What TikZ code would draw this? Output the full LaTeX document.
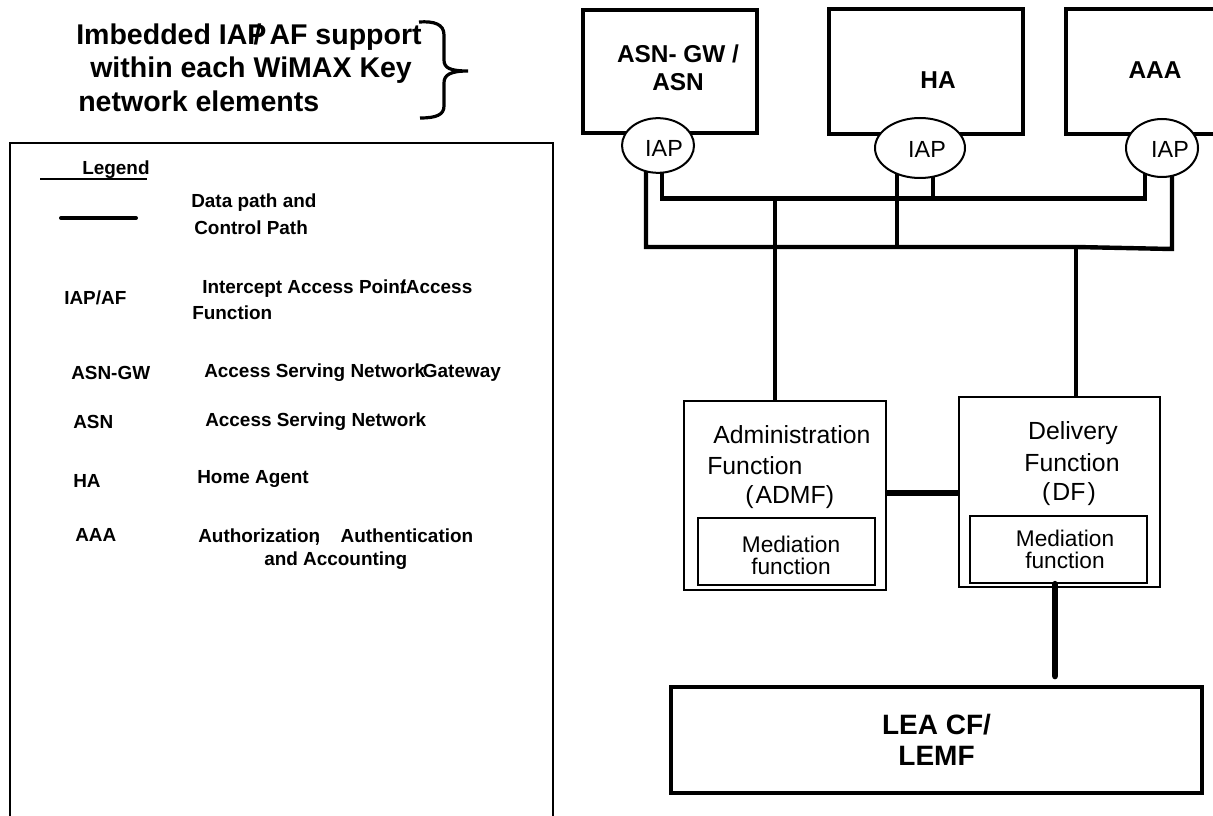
\documentclass[tikz,border=0pt]{standalone}
\usepackage{fontspec}
\setmainfont{Liberation Sans}
\usetikzlibrary{shapes.geometric,calc,backgrounds}
\newcommand{\mytitlefont}{\fontsize{21.4}{24}\selectfont\bfseries}
\newcommand{\mylegfont}{\fontsize{14.2}{18}\selectfont\bfseries}
\newcommand{\myboxfont}{\fontsize{18.3}{21}\selectfont\bfseries}
\newcommand{\myiapfont}{\fontsize{17.5}{18}\selectfont}
\newcommand{\myfnfont}{\fontsize{18.6}{23}\selectfont}
\newcommand{\mymedfont}{\fontsize{17}{16.4}\selectfont}
\newcommand{\myleafont}{\fontsize{21}{23.3}\selectfont\bfseries}
\begin{document}
\begin{tikzpicture}[x=0.75pt,y=-0.75pt,
  txt/.style={inner sep=0pt, anchor=west},
  leg/.style={txt, font=\mylegfont},
  heavybox/.style={draw, line width=3pt, inner sep=0pt},
  thinbox/.style={draw, line width=1.8pt, inner sep=0pt},
  iapnode/.style={draw, ellipse, line width=1.5pt, fill=white, inner sep=0pt},
  iaptext/.style={inner sep=0pt, font=\myiapfont},
  wire/.style={line width=3.3pt},
  line join=miter]
\useasboundingbox (0,0) rectangle (1213,816);
\clip (0,0) rectangle (1213,816);

% ---------- title and brace ----------
\node[txt, font=\mytitlefont] (t1) at (76,37) {Imbedded IAP\kern-0.45em/ AF support};
\node[txt, font=\mytitlefont] (t2) at (90,70.5) {within each WiMAX Key};
\node[txt, font=\mytitlefont] (t3) at (78,101) {network elements};
\draw[line width=2.4pt] (419,22) .. controls (434,21) and (444,24) .. (444,35)
  -- (444,60) .. controls (444,68) and (450,71) .. (468,71)
  .. controls (450,71) and (444,75) .. (444,83)
  -- (444,106) .. controls (444,115) and (436,118) .. (420,118);

% ---------- legend ----------
\node[draw, line width=1.5pt, inner sep=0pt, minimum width=407.25pt, minimum height=567.75pt] (legbox) at (281.5,521.5) {};
\node[leg] (lg) at (82,170) {Legend};
\coordinate (ul) at (40,179);
\draw[line width=0.8pt] (ul) -- ($(lg.south east |- ul)+(-3,0)$);
\coordinate (lineA) at (61,218);
\coordinate (lineB) at (136,218);
\draw[line width=3pt, line cap=round] (lineA) -- (lineB);
\node[leg] (l1a) at (191,203) {Data path and};
\node[leg] (l1b) at (194,228) {Control Path};
\node[leg] (l2) at (64,298) {IAP/AF};
\node[leg] (l2a) at (202,289) {Intercept Access Point\kern-0.3em/Access};
\node[leg] (l2b) at (192,313) {Function};
\node[leg] (l3) at (71,373) {ASN-GW};
\node[leg] (l3a) at (204,373) {Access Serving Network\kern-0.12em{}Gateway};
\node[leg] (l4) at (73,422) {ASN};
\node[leg] (l4a) at (205,422) {Access Serving Network};
\node[leg] (l5) at (73,481) {HA};
\node[leg] (l5a) at (197,479) {Home Agent};
\node[leg] (l6) at (75,535) {AAA};
\node[leg] (l6a) at (198,537) {Authorization\kern-0.3em,\hspace{1.1em}Authentication};
\node[leg] (l6b) at (264,561) {and Accounting};

% ---------- network elements ----------
\node[heavybox, minimum width=130.5pt, minimum height=92.25pt] (asn) at (670,71.5) {};
\node[heavybox, minimum width=145.5pt, minimum height=93.75pt] (ha) at (926,72) {};
\node[heavybox, minimum width=145.5pt, minimum height=93.75pt] (aaa) at (1163,72) {};
\node[font=\myboxfont, align=center, inner sep=0pt] (asnt) at (678,68) {ASN- GW /\\ASN};
\node[font=\myboxfont, inner sep=0pt] (hat) at (938,80) {HA};
\node[font=\myboxfont, inner sep=0pt] (aaat) at (1155,70) {AAA};

\node[iapnode, minimum width=54pt, minimum height=41pt] (iap1) at (658,145.5) {};
\node[iapnode, minimum width=67.5pt, minimum height=45pt] (iap2) at (920,148) {};
\node[iapnode, minimum width=54pt, minimum height=43.5pt] (iap3) at (1162,148) {};
\node[iaptext] (iap1t) at ($(iap1.center)+(6,3)$) {IAP};
\node[iaptext] (iap2t) at ($(iap2.center)+(7,1)$) {IAP};
\node[iaptext] (iap3t) at ($(iap3.center)+(8,1)$) {IAP};

% ---------- function boxes ----------
\node[thinbox, minimum width=151.5pt, minimum height=141.75pt] (adm) at (785,495.5) {};
\node[thinbox, minimum width=150.75pt, minimum height=142.5pt] (df) at (1059.5,492) {};
\node[thinbox, minimum width=132.75pt, minimum height=50.25pt] (admm) at (786.5,551.5) {};
\node[thinbox, minimum width=132.75pt, minimum height=50.25pt] (dfm) at (1058.5,549.5) {};
\node[font=\mymedfont, align=center, inner sep=0pt] (admmt) at (791,555) {Mediation\\function};
\node[font=\mymedfont, align=center, inner sep=0pt] (dfmt) at (1065,549) {Mediation\\function};
\node[txt, font=\myfnfont] (a1) at (713,434.5) {Administration};
\node[txt, font=\myfnfont] (a2) at (707,466) {Function};
\node[txt, font=\myfnfont] (a3) at (745,497) {(\kern0.08em ADMF)};
\node[font=\myfnfont, inner sep=0pt] (d1) at (1073,433) {Delivery};
\node[font=\myfnfont, inner sep=0pt] (d2) at (1072,463) {Function};
\node[font=\myfnfont, inner sep=0pt] (d3) at (1069,494) {(\kern0.08em DF\kern0.08em)};

\node[heavybox, minimum width=398.25pt, minimum height=79.5pt, font=\myleafont, align=center] (lea) at (936.5,740) {LEA CF/\\LEMF};

% ---------- wiring ----------
\coordinate (hbus) at (0,493);
\coordinate (lbk) at (1076,247);
\begin{pgfonlayer}{background}
\draw[wire] ($(iap1.center)+(4,0)$) -- ($(iap1.center)+(4,53)$) -| ($(iap3.center)+(-17,0)$);
\draw[wire] ($(iap2.center)+(13,0)$) -- ($(iap2.center)+(13,51)$);
\draw[wire] ($(iap1.center)+(-12,0)$) -- ($(iap1.center)+(-12,101.5)$) -- (lbk) -- ($(iap3.center)+(10,101)$) -- ($(iap3.center)+(10,0)$);
\draw[wire] ($(iap2.center)+(-23,0)$) -- ($(iap2.center)+(-23,99)$);
\draw[wire] ($(adm.north)+(-10,0)$) -- ($(adm.north)+(-10,-202)$);
\draw[wire] ($(df.north)+(16.5,0)$) -- ($(df.north)+(16.5,-150)$);
\end{pgfonlayer}
\draw[wire, line width=3.8pt] (adm.east |- hbus) -- (df.west |- hbus);
\draw[wire, line width=5pt, line cap=round] ($(dfm.south)+(-3.5,0)$) -- ($(lea.north)+(118.5,-9)$);
\end{tikzpicture}
\end{document}
